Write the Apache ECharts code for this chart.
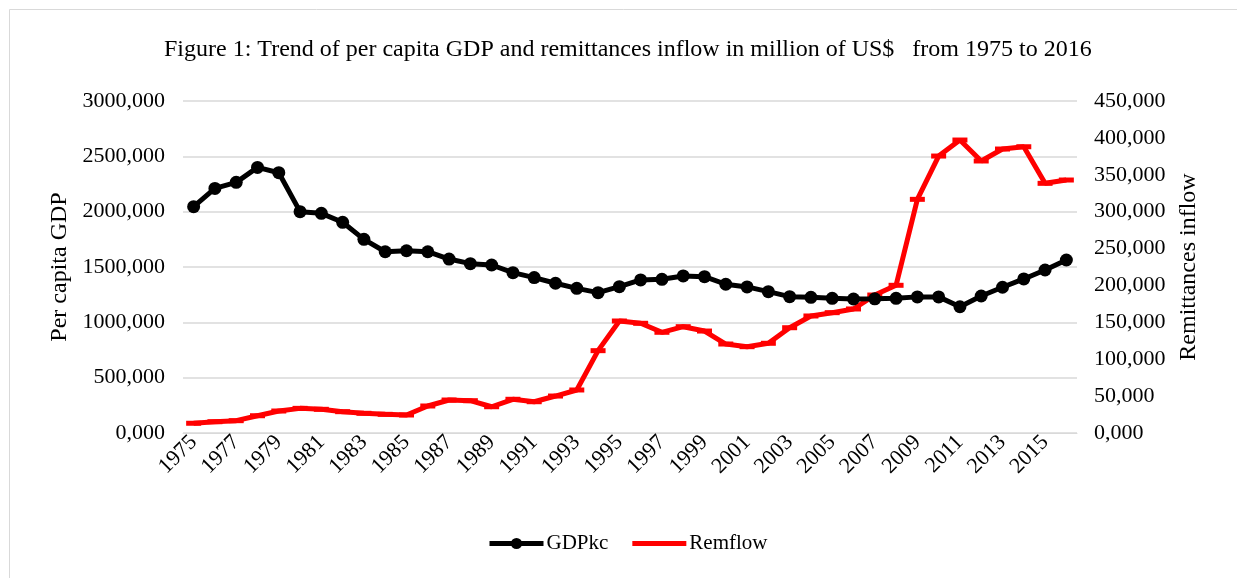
<!DOCTYPE html>
<html>
<head>
<meta charset="utf-8">
<script src="https://cdn.jsdelivr.net/npm/echarts@6/dist/echarts.min.js"></script>
<style>html,body{margin:0;padding:0;background:#fff;}#c{width:1237px;height:578px;}</style>
</head>
<body>
<div id="c"></div>
<script>
const years = ['1975','1976','1977','1978','1979','1980','1981','1982','1983','1984','1985','1986','1987','1988','1989','1990','1991','1992','1993','1994','1995','1996','1997','1998','1999','2000','2001','2002','2003','2004','2005','2006','2007','2008','2009','2010','2011','2012','2013','2014','2015','2016'];
const gdpkc = [2045,2210,2265,2400,2352,2000,1985,1904,1750,1638,1647,1638,1572,1530,1518,1449,1404,1353,1307,1268,1322,1383,1389,1419,1413,1344,1320,1277,1232,1226,1217,1211,1212,1217,1230,1230,1141,1238,1317,1392,1473,1563];
const remflow = [13200,15300,16700,23400,29800,33400,32100,28900,26700,25300,24400,36600,44700,43800,35600,45700,42400,50100,58300,111600,151800,148700,136500,144100,138200,120600,117000,121600,142700,158600,163100,168100,187000,200200,316700,375400,397100,368700,384900,388000,338400,342900];
const leftTicks = {min:0, max:3000, interval:500};
const rightTicks = {min:0, max:450000, interval:50000};
const titleText = 'Figure 1: Trend of per capita GDP and remittances inflow in million of US$   from 1975 to 2016';

const FONT = '"Liberation Serif", "Times New Roman", serif';
const chart = echarts.init(document.getElementById('c'));
chart.setOption({
  animation: false,
  backgroundColor: '#fff',
  textStyle: {fontFamily: FONT, color: '#000'},
  graphic: [{type:'rect', shape:{x:9.5, y:9.5, width:1400, height:800}, style:{fill:'none', stroke:'#d9d9d9', lineWidth:1}, silent:true}],
  title: {text: titleText, left: 159, top: 33, textStyle:{fontFamily: FONT, fontSize: 24, fontWeight:'normal', color:'#000'}},
  legend: {
    left: 487, top: 533, padding: 0, itemWidth: 54, itemHeight: 14, itemGap: 24,
    lineStyle: {width: 5},
    textStyle: {fontFamily: FONT, fontSize: 21, color:'#000', padding:[0,0,0,-2]},
    data: [{name:'GDPkc'}, {name:'Remflow', icon:'path://M0,0 H54 V5 H0 Z', itemStyle:{color:'#ff0000'}}]
  },
  grid: {left: 183, right: 160, top: 101, bottom: 145, containLabel: false},
  xAxis: {
    type: 'category', data: years, boundaryGap: true,
    axisLine: {lineStyle:{color:'#d9d9d9', width:1}},
    axisTick: {show:false},
    axisLabel: {interval: 1, rotate: 45, fontFamily: FONT, fontSize: 22, color:'#000', margin: 6}
  },
  yAxis: [
    {type:'value', min:leftTicks.min, max:leftTicks.max, interval:leftTicks.interval,
     name:'Per capita GDP', nameLocation:'middle', nameGap: 98,
     nameTextStyle:{fontFamily:FONT, fontSize:24, color:'#000'},
     axisLine:{show:false}, axisTick:{show:false},
     splitLine:{lineStyle:{color:'#d9d9d9', width:1.5}},
     axisLabel:{fontFamily:FONT, fontSize:22, color:'#000', margin:18, formatter: v => v + ',000'}},
    {type:'value', min:rightTicks.min, max:rightTicks.max, interval:rightTicks.interval,
     name:'Remittances inflow', nameLocation:'middle', nameGap: 100, nameRotate: 90,
     nameTextStyle:{fontFamily:FONT, fontSize:24, color:'#000'},
     axisLine:{show:false}, axisTick:{show:false},
     splitLine:{show:false},
     axisLabel:{fontFamily:FONT, fontSize:22, color:'#000', margin:17, formatter: v => (v/1000) + ',000'}}
  ],
  series: [
    {name:'GDPkc', type:'line', yAxisIndex:0, data: gdpkc,
     symbol:'circle', symbolSize:13, lineStyle:{color:'#000', width:5}, itemStyle:{color:'#000'}, z:3},
    {name:'Remflow', type:'line', yAxisIndex:1, data: remflow,
     symbol:'rect', symbolSize:[15,5], lineStyle:{color:'#ff0000', width:5}, itemStyle:{color:'#ff0000'}, z:2}
  ]
});
</script>
</body>
</html>
